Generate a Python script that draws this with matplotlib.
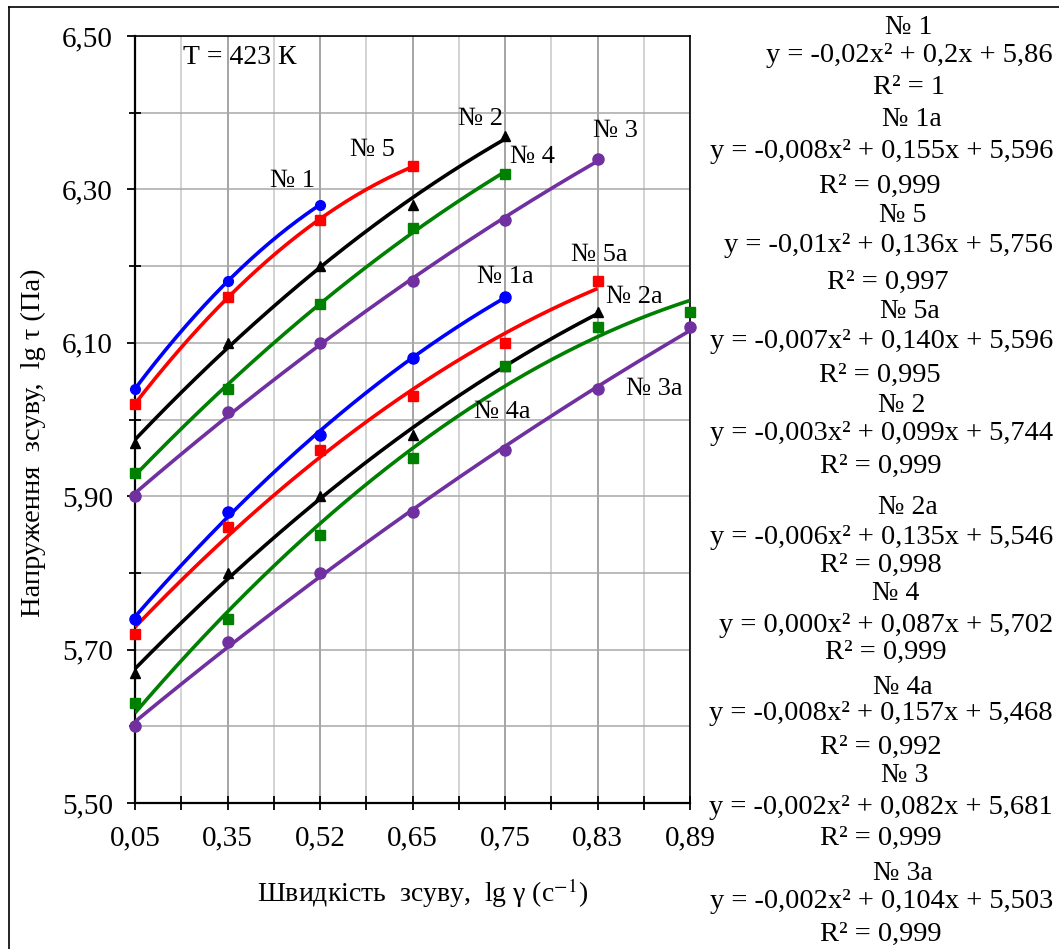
import matplotlib
matplotlib.use("Agg")
import matplotlib.pyplot as plt
import numpy as np
from matplotlib.lines import Line2D
from matplotlib.ticker import FixedLocator

plt.rcParams['font.family'] = ['Liberation Serif', 'DejaVu Serif']
plt.rcParams['mathtext.fontset'] = 'stix'

# shear rate categories (lg gamma)
categories = ['0,05', '0,35', '0,52', '0,65', '0,75', '0,83', '0,89']

# shear stress lg tau
s1 = [6.04, 6.18, 6.28]
s5 = [6.02, 6.16, 6.26, 6.33]
s2 = [5.97, 6.10, 6.20, 6.28, 6.37]
s4 = [5.93, 6.04, 6.15, 6.25, 6.32]
s3 = [5.90, 6.01, 6.10, 6.18, 6.26, 6.34]
s1a = [5.74, 5.88, 5.98, 6.08, 6.16]
s5a = [5.72, 5.86, 5.96, 6.03, 6.10, 6.18]
s2a = [5.67, 5.80, 5.90, 5.98, 6.07, 6.14]
s4a = [5.63, 5.74, 5.85, 5.95, 6.07, 6.12, 6.14]
s3a = [5.60, 5.71, 5.80, 5.88, 5.96, 6.04, 6.12]

y_major = [5.5, 5.7, 5.9, 6.1, 6.3, 6.5]
y_minor = [5.6, 5.8, 6.0, 6.2, 6.4]

# trendline labels shown at the right
eq_names = ['№ 1', '№ 1a', '№ 5', '№ 5a', '№ 2', '№ 2a', '№ 4', '№ 4a', '№ 3', '№ 3a']
eq_texts = ['y = -0,02x² + 0,2x + 5,86',
            'y = -0,008x² + 0,155x + 5,596',
            'y = -0,01x² + 0,136x + 5,756',
            'y = -0,007x² + 0,140x + 5,596',
            'y = -0,003x² + 0,099x + 5,744',
            'y = -0,006x² + 0,135x + 5,546',
            'y = 0,000x² + 0,087x + 5,702',
            'y = -0,008x² + 0,157x + 5,468',
            'y = -0,002x² + 0,082x + 5,681',
            'y = -0,002x² + 0,104x + 5,503']
r2_texts = ['R² = 1', 'R² = 0,999', 'R² = 0,997', 'R² = 0,995', 'R² = 0,999',
            'R² = 0,998', 'R² = 0,999', 'R² = 0,992', 'R² = 0,999', 'R² = 0,999']

W, H = 1059, 949
fx = lambda p: p / W
fy = lambda p: 1 - p / H

fig = plt.figure(figsize=(W / 100, H / 100), dpi=100)
ax = fig.add_axes([fx(135), fy(803), fx(690) - fx(135), fy(36) - fy(803)])

blue, red, green, purple = '#0000ff', '#ff0000', '#008000', '#7030a0'
series = [
    (s1, blue, 'o', 7),
    (s5, red, 's', 7.5),
    (s2, 'black', '^', 7),
    (s4, green, 's', 7.5),
    (s3, purple, 'o', 8),
    (s1a, blue, 'o', 8),
    (s5a, red, 's', 7.5),
    (s2a, 'black', '^', 7),
    (s4a, green, 's', 7.5),
    (s3a, purple, 'o', 8),
]

for vals, col, mk, ms in series:
    idx = np.arange(len(vals))
    # polynomial trendline of 2nd order, like in Excel
    coef = np.polyfit(idx, vals, 2)
    xs = np.linspace(0, len(vals) - 1, 200)
    ax.plot(xs, np.polyval(coef, xs), color=col, lw=2.6, zorder=3, solid_capstyle='butt')
    ax.plot(idx, vals, linestyle='none', marker=mk, color=col, ms=ms, zorder=4, clip_on=False)

ax.set_xlim(0, 6)
ax.set_ylim(5.5, 6.5)
ax.set_xticks(range(len(categories)))
ax.set_xticklabels(categories)
ax.xaxis.set_minor_locator(FixedLocator(np.arange(0.5, 6, 1)))
ax.yaxis.set_major_locator(FixedLocator(y_major))
ax.yaxis.set_minor_locator(FixedLocator(y_minor))
ax.yaxis.set_major_formatter(lambda v, p: f'{v:.2f}'.replace('.', ','))

ax.grid(which='major', axis='x', color='#8c8c8c', lw=1.1)
ax.grid(which='minor', axis='x', color='#c8c8c8', lw=1.1)
ax.grid(which='both', axis='y', color='#a8a8a8', lw=1.1)
ax.set_axisbelow(True)

for sp in ax.spines.values():
    sp.set_color('black')
    sp.set_linewidth(1.2)
ax.spines['left'].set_linewidth(1.6)
ax.spines['bottom'].set_linewidth(1.6)

ax.tick_params(axis='y', which='major', direction='out', length=6, width=1.3, labelsize=21, pad=10)
ax.tick_params(axis='y', which='minor', direction='inout', length=8, width=1.3)
ax.tick_params(axis='x', which='both', direction='inout', length=10, width=1.3, labelsize=21, pad=11)

fig.text(fx(423), fy(893), 'Швидкість  зсуву,  lg γ (с$^{-1}$)', ha='center', va='center', fontsize=20)
fig.text(fx(33), fy(443), 'Напруження  зсуву,  lg τ (Па)', ha='center', va='center',
         rotation=90, fontsize=20.5)
fig.text(fx(183), fy(57), 'Т = 423 К', ha='left', va='center', fontsize=20)

# series labels on the chart
lab_names = ['№ 1', '№ 5', '№ 2', '№ 4', '№ 3', '№ 1a', '№ 5a', '№ 2a', '№ 4a', '№ 3a']
lab_px = [(293, 181), (372, 150), (481, 119), (532, 157), (615, 131),
          (505, 277), (599, 255), (634, 297), (502, 412), (654, 389)]
for name, (px, py) in zip(lab_names, lab_px):
    fig.text(fx(px), fy(py), name, ha='center', va='center', fontsize=19)

# trendline equations
rows = [(28, 55, 88), (119, 152, 186), (215, 245, 282), (312, 341, 375),
        (406, 433, 466), (508, 537, 565), (593, 626, 652), (687, 714, 747),
        (776, 808, 838), (873, 901, 934)]
r2_x = [909, 880, 888, 880, 881, 881, 886, 881, 881, 881]
name_x = [909, 912, 903, 910, 902, 908, 896, 903, 905, 903]
for name, eq, r2, (y1, y2, y3), xr, xn in zip(eq_names, eq_texts, r2_texts, rows, r2_x, name_x):
    fig.text(fx(xn), fy(y1), name, ha='center', va='center', fontsize=20)
    fig.text(fx(1053), fy(y2), eq, ha='right', va='center', fontsize=20.5)
    fig.text(fx(xr), fy(y3), r2, ha='center', va='center', fontsize=20.5)

# outer chart frame
fig.add_artist(Line2D([fx(9), fx(9)], [0, fy(7)], color='black', lw=1.2))
fig.add_artist(Line2D([fx(9), 1], [fy(7), fy(7)], color='black', lw=1.2))

fig.savefig('out.png', dpi=100)
